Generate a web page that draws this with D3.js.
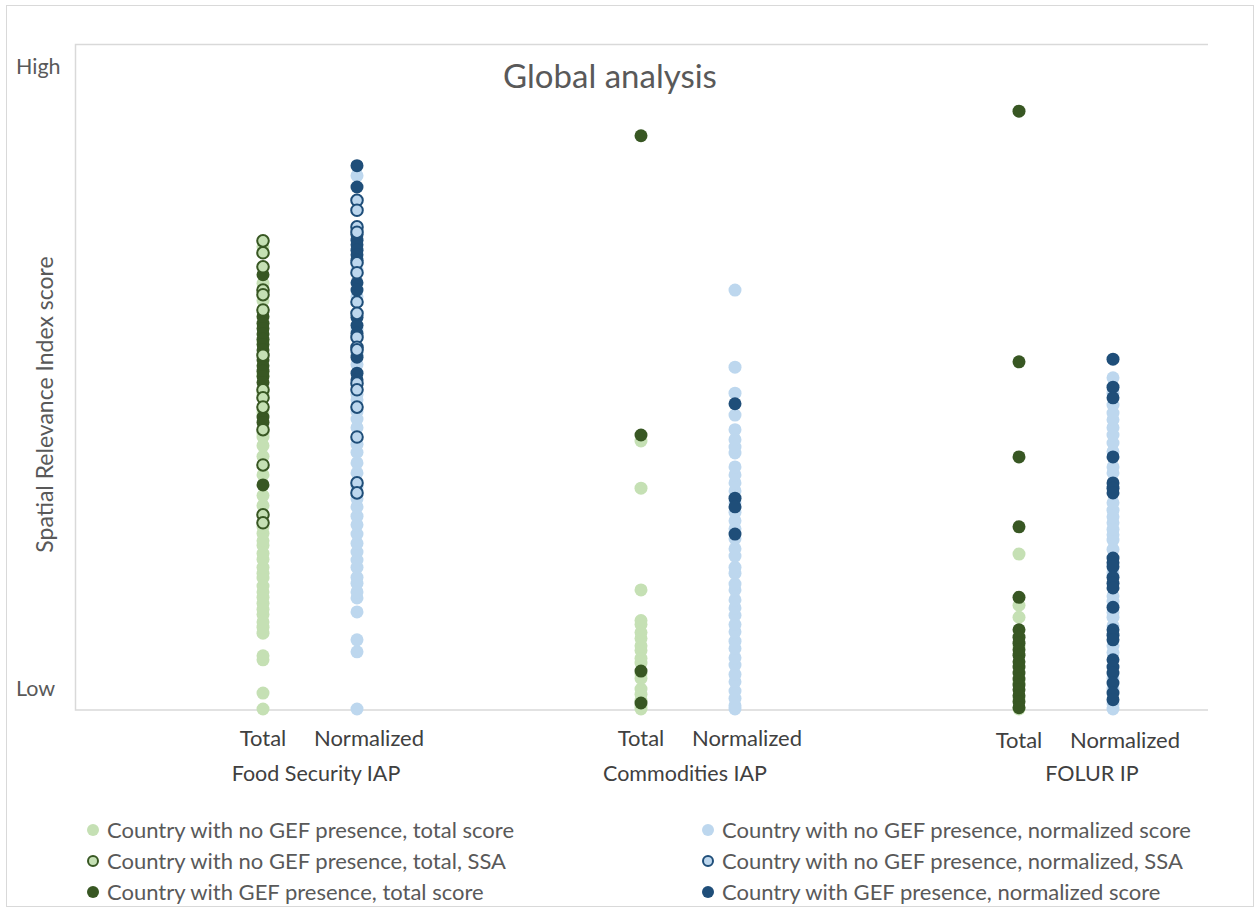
<!DOCTYPE html>
<html>
<head>
<meta charset="utf-8">
<script src="https://cdn.jsdelivr.net/npm/d3@7"></script>
<style>
  body { margin: 0; background: #fff; }
  text { font-family: Lato, "Open Sans", sans-serif; }
</style>
</head>
<body>
<div id="chart"></div>
<script>
// groups and column labels
let groups = ["Food Security IAP", "Commodities IAP", "FOLUR IP"];
let columns = ["Total", "Normalized"];
let yLabels = ["Low", "High"];

// scores (0 = axis bottom, 100 = top of plot area)
let fsTotalNoGef = [0, 2.4, 7.4, 8.0, 11.4, 12.3, 13.1, 14.2, 15.0, 15.9, 16.8, 17.6, 18.5, 19.7, 20.4, 21.3, 22.5, 23.4, 24.6, 25.3, 26.4, 27.4, 30.6, 32.1, 35.2, 38.0, 39.6, 40.9, 41.5, 44.6, 47.5, 50.2, 55.3, 61.4, 64.0, 69.5];
let fsTotalSsa = [70.4, 68.6, 66.5, 63.0, 62.3, 60.0, 53.2, 48.0, 46.8, 45.4, 42.0, 36.7, 29.2, 28.0];
let fsTotalGef = [65.3, 59.0, 58.0, 57.2, 56.4, 55.6, 54.8, 54.0, 52.5, 51.6, 50.8, 50.0, 49.1, 43.9, 43.1, 33.7];

let fsNormNoGef = [0, 8.6, 10.4, 14.6, 16.7, 17.6, 18.9, 19.8, 21.3, 22.4, 23.6, 24.9, 26.3, 27.7, 29.0, 30.4, 31.6, 33.3, 35.5, 37.0, 38.6, 39.8, 42.3, 43.6, 44.7, 46.5, 47.3, 51.8, 53.4, 57.1, 62.0, 66.0, 80.2];
let fsNormSsa = [76.5, 75.0, 72.5, 71.7, 67.1, 65.6, 61.2, 59.5, 55.9, 54.4, 54.0, 49.0, 48.0, 45.4, 40.9, 34.0, 32.5];
let fsNormGef = [81.7, 78.5, 71.3, 70.5, 69.8, 69.0, 68.3, 67.5, 64.1, 63.0, 58.9, 57.7, 56.5, 52.9, 50.5, 49.5];

let comTotalNoGef = [0, 0.5, 1.3, 2.2, 3.0, 4.6, 5.3, 6.9, 7.6, 8.8, 9.5, 10.6, 11.5, 12.7, 13.3, 17.9, 33.2, 40.3];
let comTotalGef = [86.2, 41.2, 5.7, 0.9];

let comNormNoGef = [0, 0.5, 1.6, 2.7, 4.1, 5.2, 6.6, 7.7, 9.1, 10.2, 11.6, 12.7, 14.1, 15.2, 16.4, 17.9, 18.8, 20.4, 21.3, 23.0, 24.1, 25.6, 27.1, 28.3, 29.6, 31.0, 32.8, 34.0, 35.2, 36.4, 38.5, 39.4, 40.5, 42.0, 44.2, 47.5, 51.4, 63.0];
let comNormGef = [45.9, 31.7, 30.4, 26.3];

let folTotalNoGef = [0, 1.5, 4.0, 9.3, 13.8, 15.6, 23.3];
let folTotalGef = [89.9, 52.2, 37.9, 27.4, 16.8, 11.9, 10.8, 9.9, 8.9, 8.1, 7.1, 6.3, 5.4, 4.5, 3.6, 2.9, 2.0, 1.1, 0.2];

let folNormNoGef = [0, 0.8, 3.0, 4.6, 8.5, 9.5, 12.5, 13.8, 14.5, 16.2, 17.0, 20.5, 24.0, 25.4, 26.2, 27.0, 28.0, 28.9, 29.9, 31.0, 35.5, 36.4, 38.7, 40.0, 41.2, 42.3, 43.5, 44.5, 45.7, 47.5, 49.8];
let folNormGef = [52.6, 48.4, 46.8, 37.9, 34.0, 33.2, 32.5, 22.7, 22.0, 21.4, 19.8, 18.9, 18.2, 15.3, 11.9, 11.1, 10.4, 7.4, 6.3, 5.4, 3.9, 2.4, 1.4];

let legendItems = [
  "Country with no GEF presence, total score",
  "Country with no GEF presence, total, SSA",
  "Country with GEF presence, total score",
  "Country with no GEF presence, normalized score",
  "Country with no GEF presence, normalized, SSA",
  "Country with GEF presence, normalized score"
];

// kind: 0 = no GEF, 1 = SSA (hollow), 2 = GEF
let series = [
  {g: 0, c: 0, kind: 0, values: fsTotalNoGef},
  {g: 0, c: 1, kind: 0, values: fsNormNoGef},
  {g: 1, c: 0, kind: 0, values: comTotalNoGef},
  {g: 1, c: 1, kind: 0, values: comNormNoGef},
  {g: 2, c: 0, kind: 0, values: folTotalNoGef},
  {g: 2, c: 1, kind: 0, values: folNormNoGef},
  {g: 0, c: 0, kind: 2, values: fsTotalGef},
  {g: 0, c: 1, kind: 2, values: fsNormGef},
  {g: 1, c: 0, kind: 2, values: comTotalGef},
  {g: 1, c: 1, kind: 2, values: comNormGef},
  {g: 2, c: 0, kind: 2, values: folTotalGef},
  {g: 2, c: 1, kind: 2, values: folNormGef},
  {g: 0, c: 0, kind: 1, values: fsTotalSsa},
  {g: 0, c: 1, kind: 1, values: fsNormSsa}
];

let palette = {
  light: ["#c5e0b4", "#bdd7ee"],
  dark: ["#385723", "#1f4e79"]
};

let W = 1255, H = 909;
let plot = {left: 75, top: 44, right: 1208, bottom: 709};

let svg = d3.select("#chart").append("svg")
  .attr("width", W)
  .attr("height", H);

// outer chart border
svg.append("rect")
  .attr("x", 6.5).attr("y", 5.5)
  .attr("width", W - 8).attr("height", H - 8)
  .attr("fill", "#fff")
  .attr("stroke", "#d9d9d9");

let y = d3.scaleLinear().domain([0, 100]).range([plot.bottom, plot.top]);
let xGroup = d3.scalePoint().domain(d3.range(groups.length)).range([310, 1066]);
let colOffset = d3.scalePoint().domain(d3.range(columns.length)).range([-47, 47]);
let xCol = (g, c) => xGroup(g) + colOffset(c);

// plot area frame: left, top and bottom lines
svg.append("path")
  .attr("d", `M${plot.right},${plot.top + 0.5}H${plot.left + 0.5}V${plot.bottom + 1}H${plot.right}`)
  .attr("fill", "none")
  .attr("stroke", "#d9d9d9")
  .attr("stroke-width", 1.5);

// title
svg.append("text")
  .attr("x", 610).attr("y", 88)
  .attr("text-anchor", "middle")
  .attr("font-size", 33)
  .attr("fill", "#595959")
  .text("Global analysis");

// y labels
svg.selectAll("text.ylab")
  .data(yLabels)
  .join("text")
    .attr("class", "ylab")
    .attr("x", 16)
    .attr("y", (d, i) => y(i === 0 ? 3.2 : 96.7) + 8)
    .attr("font-size", 21.5)
    .attr("fill", "#595959")
    .text(d => d);

svg.append("text")
  .attr("transform", `translate(53,${(plot.top + plot.bottom) / 2 + 28}) rotate(-90)`)
  .attr("text-anchor", "middle")
  .attr("font-size", 23)
  .attr("fill", "#595959")
  .text("Spatial Relevance Index score");

// x labels
let xLabelShift = [0, 12];
let groupShift = [6, -3, 26];
groups.forEach((gName, g) => {
  columns.forEach((cName, c) => {
    svg.append("text")
      .attr("x", xCol(g, c) + xLabelShift[c])
      .attr("y", g === 2 ? 748 : 746)
      .attr("text-anchor", "middle")
      .attr("font-size", 22)
      .attr("fill", "#404040")
      .text(cName);
  });
  svg.append("text")
    .attr("x", xGroup(g) + groupShift[g])
    .attr("y", 781)
    .attr("text-anchor", "middle")
    .attr("font-size", 21.5)
    .attr("fill", "#404040")
    .text(gName);
});

// dots
let dotLayer = svg.append("g");
series.forEach(s => {
  dotLayer.append("g")
    .selectAll("circle")
    .data(s.values)
    .join("circle")
      .attr("cx", xCol(s.g, s.c))
      .attr("cy", d => y(d))
      .attr("r", s.kind === 1 ? 5.8 : 6.5)
      .attr("fill", s.kind === 2 ? palette.dark[s.c] : palette.light[s.c])
      .attr("stroke", s.kind === 1 ? palette.dark[s.c] : "none")
      .attr("stroke-width", 2);
});

// legend
let legend = svg.append("g");
legendItems.forEach((label, i) => {
  let col = Math.floor(i / 3), kind = i % 3;
  let lx = col === 0 ? 93 : 708;
  let ly = 830 + kind * 31;
  legend.append("circle")
    .attr("cx", lx).attr("cy", ly)
    .attr("r", kind === 1 ? 5 : 6)
    .attr("fill", kind === 2 ? palette.dark[col] : palette.light[col])
    .attr("stroke", kind === 1 ? palette.dark[col] : "none")
    .attr("stroke-width", 2);
  legend.append("text")
    .attr("x", lx + 14).attr("y", ly + 8)
    .attr("font-size", 22)
    .attr("fill", "#595959")
    .text(label);
});
</script>
</body>
</html>
